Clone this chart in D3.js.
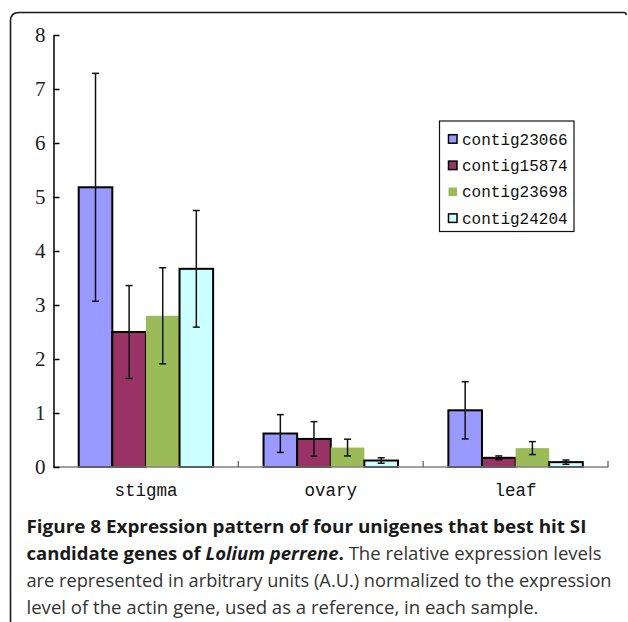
<!DOCTYPE html>
<html>
<head>
<meta charset="utf-8">
<script src="https://cdn.jsdelivr.net/npm/d3@7"></script>
<style>
  html, body { margin: 0; padding: 0; background: #fff; }
  svg { display: block; }
</style>
</head>
<body>
<svg id="chart" width="628" height="622"></svg>
<script>
// Expression levels (A.U.) per tissue, one array per unigene
const categories = ["stigma", "ovary", "leaf"];
const seriesNames = ["contig23066", "contig15874", "contig23698", "contig24204"];
const contig23066 = [5.18, 0.62, 1.05];
const contig15874 = [2.50, 0.52, 0.17];
const contig23698 = [2.80, 0.36, 0.35];
const contig24204 = [3.67, 0.12, 0.09];
// Standard deviations (error bar half-lengths)
const err23066 = [2.11, 0.35, 0.53];
const err15874 = [0.86, 0.32, 0.035];
const err23698 = [0.89, 0.155, 0.12];
const err24204 = [1.08, 0.05, 0.04];
const yTicks = [0, 1, 2, 3, 4, 5, 6, 7, 8];

const seriesValues = [contig23066, contig15874, contig23698, contig24204];
const seriesErrors = [err23066, err15874, err23698, err24204];
const colors = ["#9999FF", "#993366", "#9BBB59", "#CCFFFF"];
const stroked = [true, true, false, true];

const svg = d3.select("#chart");

// Rounded panel frame (left and top edges)
svg.append("path")
  .attr("d", "M10.5,622 L10.5,21 Q10.5,12.5 19,12.5 L624,12.5 Q626,12.5 626.5,15")
  .attr("fill", "none").attr("stroke", "#1a1a1a").attr("stroke-width", 1.6);

const plotLeft = 53.5, plotRight = 608, plotTop = 35, plotBottom = 467;

const y = d3.scaleLinear().domain([0, 8]).range([plotBottom, plotTop]);
const x0 = d3.scaleBand().domain(categories).range([plotLeft, plotRight]).paddingInner(0).paddingOuter(0);
const x1 = d3.scaleBand().domain(seriesNames).range([0, x0.bandwidth()]).paddingInner(0).paddingOuter(0.75);

// Bars
const rows = [];
categories.forEach((c, ci) => {
  seriesNames.forEach((s, si) => {
    rows.push({ cat: c, series: s, si, value: seriesValues[si][ci], err: seriesErrors[si][ci] });
  });
});

const plot = svg.append("g");
plot.selectAll("rect.bar").data(rows).join("rect")
  .attr("class", "bar")
  .attr("x", d => x0(d.cat) + x1(d.series))
  .attr("y", d => y(d.value))
  .attr("width", x1.bandwidth())
  .attr("height", d => y(0) - y(d.value))
  .attr("fill", d => colors[d.si])
  .attr("stroke", d => stroked[d.si] ? "#000" : "none")
  .attr("stroke-width", 2);

// X axis line (grey) with upward boundary ticks
const xAxisG = svg.append("g");
xAxisG.append("line")
  .attr("x1", plotLeft).attr("x2", plotRight + 0.5).attr("y1", plotBottom).attr("y2", plotBottom)
  .attr("stroke", "#808080").attr("stroke-width", 1.6);
const boundaries = categories.map(c => x0(c) + x0.bandwidth());
xAxisG.selectAll("line.bt").data(boundaries).join("line")
  .attr("class", "bt")
  .attr("x1", d => d).attr("x2", d => d)
  .attr("y1", plotBottom).attr("y2", plotBottom - 6)
  .attr("stroke", "#555").attr("stroke-width", 1.2);

// Category labels
const xAxis = d3.axisBottom(x0).tickSize(0).tickPadding(0);
const xg = svg.append("g").attr("transform", `translate(0,${plotBottom})`).call(xAxis);
xg.select(".domain").remove();
xg.selectAll("text")
  .attr("y", 29).attr("dy", 0)
  .attr("font-family", "'Liberation Mono', monospace")
  .attr("font-size", 17.5)
  .attr("fill", "#111");

// Error bars
const eb = plot.selectAll("g.err").data(rows).join("g").attr("class", "err")
  .attr("transform", d => `translate(${x0(d.cat) + x1(d.series) + x1.bandwidth() / 2},0)`);
eb.append("line")
  .attr("x1", 0).attr("x2", 0)
  .attr("y1", d => y(d.value + d.err)).attr("y2", d => y(d.value - d.err))
  .attr("stroke", "#111").attr("stroke-width", 1.5);
eb.append("line")
  .attr("x1", -3.5).attr("x2", 3.5)
  .attr("y1", d => y(d.value + d.err)).attr("y2", d => y(d.value + d.err))
  .attr("stroke", "#111").attr("stroke-width", 1.5);
eb.append("line")
  .attr("x1", -3.5).attr("x2", 3.5)
  .attr("y1", d => y(d.value - d.err)).attr("y2", d => y(d.value - d.err))
  .attr("stroke", "#111").attr("stroke-width", 1.5);

// Y axis: ticks point inward, labels on the left
const yAxis = d3.axisLeft(y).tickValues(yTicks).tickSize(-6).tickSizeOuter(0).tickPadding(8);
const yg = svg.append("g").attr("transform", `translate(${plotLeft},0)`).call(yAxis);
yg.select(".domain").attr("stroke", "#000").attr("stroke-width", 1.5);
yg.selectAll(".tick line").attr("stroke", "#000").attr("stroke-width", 1.5);
yg.selectAll(".tick text")
  .attr("font-family", "'Liberation Serif', serif")
  .attr("font-size", 21)
  .attr("fill", "#222");

// Legend
const lg = svg.append("g").attr("transform", "translate(439.5,121)");
lg.append("rect").attr("width", 134.5).attr("height", 110.5)
  .attr("fill", "#fff").attr("stroke", "#111").attr("stroke-width", 1.2);
const items = lg.selectAll("g.item").data(seriesNames).join("g").attr("class", "item")
  .attr("transform", (d, i) => `translate(0,${18 + i * 26.4})`);
items.append("rect")
  .attr("x", 9).attr("y", -4.3).attr("width", 8.5).attr("height", 8.5)
  .attr("fill", (d, i) => colors[i])
  .attr("stroke", (d, i) => stroked[i] ? "#000" : "none")
  .attr("stroke-width", 1.5);
items.append("text")
  .attr("x", 22.5).attr("y", 5.5)
  .attr("font-family", "'Liberation Mono', monospace")
  .attr("font-size", 16)
  .attr("fill", "#111")
  .text(d => d);

// Caption
const cap = svg.append("g").attr("font-family", "'Open Sans', sans-serif").attr("font-size", 18.5);
const capX = 26.5;
cap.append("text").attr("x", capX).attr("y", 533)
  .attr("textLength", 560).attr("lengthAdjust", "spacingAndGlyphs")
  .attr("font-weight", "bold").attr("fill", "#1a1a1a")
  .text("Figure 8 Expression pattern of four unigenes that best hit SI");
const l2 = cap.append("text").attr("x", capX).attr("y", 560)
  .attr("textLength", 575).attr("lengthAdjust", "spacingAndGlyphs").attr("fill", "#333");
l2.append("tspan").attr("font-weight", "bold").attr("fill", "#1a1a1a").text("candidate genes of ");
l2.append("tspan").attr("font-weight", "bold").attr("font-style", "italic").attr("fill", "#1a1a1a").text("Lolium perrene");
l2.append("tspan").attr("font-weight", "bold").attr("fill", "#1a1a1a").text(".");
l2.append("tspan").text(" The relative expression levels");
cap.append("text").attr("x", capX).attr("y", 587)
  .attr("textLength", 585).attr("lengthAdjust", "spacingAndGlyphs").attr("fill", "#333")
  .text("are represented in arbitrary units (A.U.) normalized to the expression");
cap.append("text").attr("x", capX).attr("y", 614)
  .attr("textLength", 512).attr("lengthAdjust", "spacingAndGlyphs").attr("fill", "#333")
  .text("level of the actin gene, used as a reference, in each sample.");
</script>
</body>
</html>
